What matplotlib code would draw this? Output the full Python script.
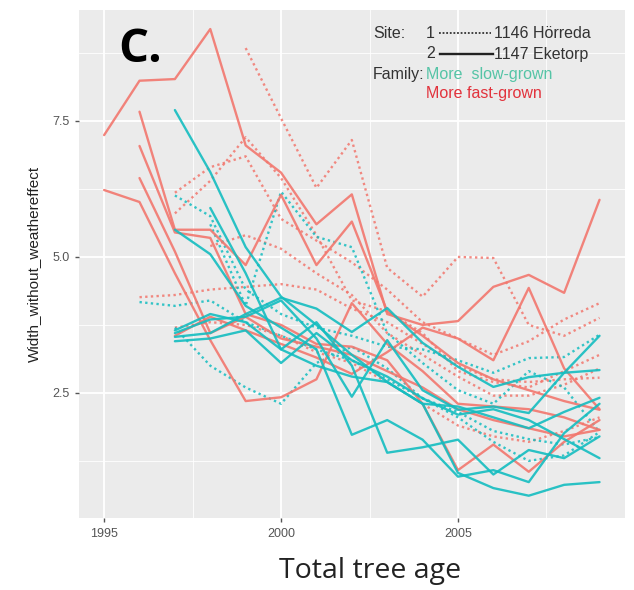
import numpy as np
import matplotlib
matplotlib.use("Agg")
import matplotlib.pyplot as plt
from matplotlib.lines import Line2D

N = np.nan
years = list(range(1995, 2010))

# Fast-grown family, site 2 (1147 Eketorp) - solid
fast_site2 = [
    [7.24, 8.24, 8.27, 9.19, 7.05, 6.55, 5.60, 6.15, 3.95, 3.75, 3.82, 4.45, 4.67, 4.34, 6.05],
    [6.23, 6.01, 4.70, 3.47, 2.35, 2.42, 2.75, 4.15, 3.40, 2.90, 2.30, 2.25, 2.20, 2.05, 1.82],
    [N, 7.67, 5.50, 5.50, 4.85, 6.14, 4.85, 5.65, 4.00, 3.55, 3.05, 2.75, 2.55, 2.35, 2.19],
    [N, 7.04, 5.45, 5.35, 3.95, 3.75, 3.40, 3.35, 3.10, 2.30, 1.08, 1.55, 1.05, 1.60, 2.00],
    [N, 6.45, 5.10, 3.60, 3.90, 3.50, 3.35, 3.20, 2.90, 2.60, 2.20, 2.00, 1.85, 1.70, 1.82],
    [N, N, 3.55, 3.90, 3.65, 3.40, 3.15, 2.85, 3.25, 3.70, 3.50, 3.10, 4.43, 2.95, 2.20],
]
# Fast-grown family, site 1 (1146 Hörreda) - dotted
fast_site1 = [
    [N, N, N, N, 8.84, 7.55, 6.27, 7.15, 4.80, 4.27, 5.00, 4.98, 3.75, 3.55, 3.88],
    [N, N, 6.18, 6.65, 6.85, 5.70, 5.30, 4.90, 4.40, 3.80, 3.50, 3.20, 3.45, 3.85, 4.15],
    [N, N, 5.80, 6.40, 7.20, 6.45, 5.40, 4.20, 4.00, 3.60, 2.90, 2.70, 2.60, 2.90, 3.20],
    [N, 4.26, 4.30, 4.40, 4.45, 4.50, 4.40, 4.05, 3.80, 3.40, 3.00, 2.75, 2.70, 2.75, 2.78],
    [N, N, N, 5.20, 5.40, 5.15, 4.70, 4.30, 3.60, 3.20, 2.80, 2.45, 2.45, 2.65, 2.95],
    [N, N, 3.70, 3.80, 3.75, 3.55, 3.25, 3.05, 2.70, 2.30, 1.90, 1.70, 1.60, 1.80, 2.05],
]
# Slow-grown family, site 2 (1147 Eketorp) - solid
slow_site2 = [
    [N, N, 7.70, 6.56, 5.18, 4.27, 3.75, 3.20, 2.70, 2.30, 1.03, 0.75, 0.61, 0.81, 0.86],
    [N, N, 5.50, 5.05, 4.10, 3.70, 3.30, 1.73, 2.00, 1.64, 0.96, 1.08, 0.86, 1.76, 2.30],
    [N, N, N, 5.90, 4.70, 3.30, 3.80, 3.00, 1.40, 1.50, 1.64, 1.00, 1.45, 1.30, 1.70],
    [N, N, 3.53, 3.60, 3.95, 4.25, 4.05, 3.62, 4.06, 3.42, 2.98, 2.61, 2.79, 2.87, 2.92],
    [N, N, 3.60, 3.85, 3.90, 4.20, 3.50, 2.43, 3.47, 2.55, 2.19, 2.25, 2.13, 2.87, 3.55],
    [N, N, 3.45, 3.50, 3.65, 3.05, 3.60, 3.10, 2.80, 2.40, 2.10, 2.20, 2.00, 1.65, 1.30],
    [N, N, 3.65, 3.95, 3.80, 3.30, 3.00, 2.80, 2.70, 2.30, 2.25, 2.05, 1.85, 2.15, 2.41],
]
# Slow-grown family, site 1 (1146 Hörreda) - dotted
slow_site1 = [
    [N, 4.17, 4.10, 4.20, 3.80, 3.55, 3.30, 3.10, 2.75, 2.40, 2.15, 1.80, 1.65, 1.55, 1.69],
    [N, N, 3.70, 3.00, 2.60, 2.30, 3.05, 3.35, 2.95, 2.40, 2.05, 1.60, 1.25, 1.35, 1.78],
    [N, N, 6.13, 5.75, 4.40, 3.95, 3.70, 3.55, 3.35, 3.30, 3.10, 2.87, 3.14, 3.16, 3.57],
    [N, N, N, 5.60, 4.10, 6.20, 5.37, 5.18, 3.60, 3.05, 2.55, 2.30, 2.90, 2.60, 1.78],
]

x_ticks = [1995, 2000, 2005]
y_ticks = [2.5, 5.0, 7.5]
y_tick_labels = ["2.5", "5.0", "7.5"]

RED = "#F2776E"
TEAL = "#14BDC0"

fig = plt.figure(figsize=(6.34, 5.90), dpi=100)
ax = fig.add_axes([79/634, 1 - 518/590, 546/634, 508/590])
ax.set_facecolor("#EBEBEB")

dotted = (0, (1.0, 1.4))
for s in fast_site1:
    ax.plot(years, s, color=RED, lw=1.7, ls=dotted, alpha=0.85)
for s in slow_site1:
    ax.plot(years, s, color=TEAL, lw=1.7, ls=dotted, alpha=0.85)
for s in fast_site2:
    ax.plot(years, s, color=RED, lw=1.7, alpha=0.9, solid_capstyle="round")
for s in slow_site2:
    ax.plot(years, s, color=TEAL, lw=1.7, alpha=0.9, solid_capstyle="round")

ax.set_xlim(1994.29, 2009.72)
ax.set_ylim(0.20, 9.54)
ax.set_xticks(x_ticks)
ax.set_xticklabels([str(t) for t in x_ticks])
ax.set_yticks(y_ticks)
ax.set_yticklabels(y_tick_labels)
ax.set_xticks([1997.5, 2002.5, 2007.5], minor=True)
ax.set_yticks([1.25, 3.75, 6.25, 8.75], minor=True)
ax.grid(which="major", color="white", lw=1.3)
ax.grid(which="minor", color="white", lw=0.6)
ax.set_axisbelow(True)
for sp in ax.spines.values():
    sp.set_visible(False)
ax.tick_params(which="major", length=3, width=1, color="#555555",
               labelsize=9, labelcolor="#555555", pad=4)
ax.tick_params(which="minor", length=0)
for lab in ax.get_xticklabels() + ax.get_yticklabels():
    lab.set_family("Liberation Sans")

ax.set_ylabel("Width_without_weathereffect", fontsize=11, color="#222222",
              family="Liberation Sans", labelpad=8)

# Panel letter
fig.text(118/634, 1 - 50/590, "C.", fontsize=34, fontweight="bold",
         family="Open Sans", color="black", va="center", ha="left")

# x axis title
fig.text(370/634, 1 - 571/590, "Total tree age", fontsize=20.5,
         family="Open Sans", color="#222222", va="center", ha="center")

# Custom legend
lf = dict(family="Liberation Sans", fontsize=11.5, va="center", transform=fig.transFigure)
def fx(px):
    return px / 634
def fy(py):
    return 1 - py / 590
fig.text(fx(373), fy(33), "Site:", color="#333333", **lf)
fig.text(fx(426), fy(33), "1", color="#333333", **lf)
fig.text(fx(494), fy(33), "1146 Hörreda", color="#333333", **lf)
fig.text(fx(426), fy(54), "2", color="#333333", **lf)
fig.text(fx(494), fy(54), "1147 Eketorp", color="#333333", **lf)
fig.add_artist(Line2D([fx(439), fx(491)], [fy(33), fy(33)], color="#333333",
                      lw=1.3, ls=(0, (1, 1)), transform=fig.transFigure))
fig.add_artist(Line2D([fx(440), fx(493)], [fy(54), fy(54)], color="#222222",
                      lw=1.7, transform=fig.transFigure))
fig.text(fx(373), fy(74), "Family:", color="#333333", **lf)
fig.text(fx(426), fy(74), "More  slow-grown", color="#55C4A6", **lf)
fig.text(fx(426), fy(94), "More fast-grown", color="#E2323C", **lf)

fig.savefig("out.png", dpi=100)
